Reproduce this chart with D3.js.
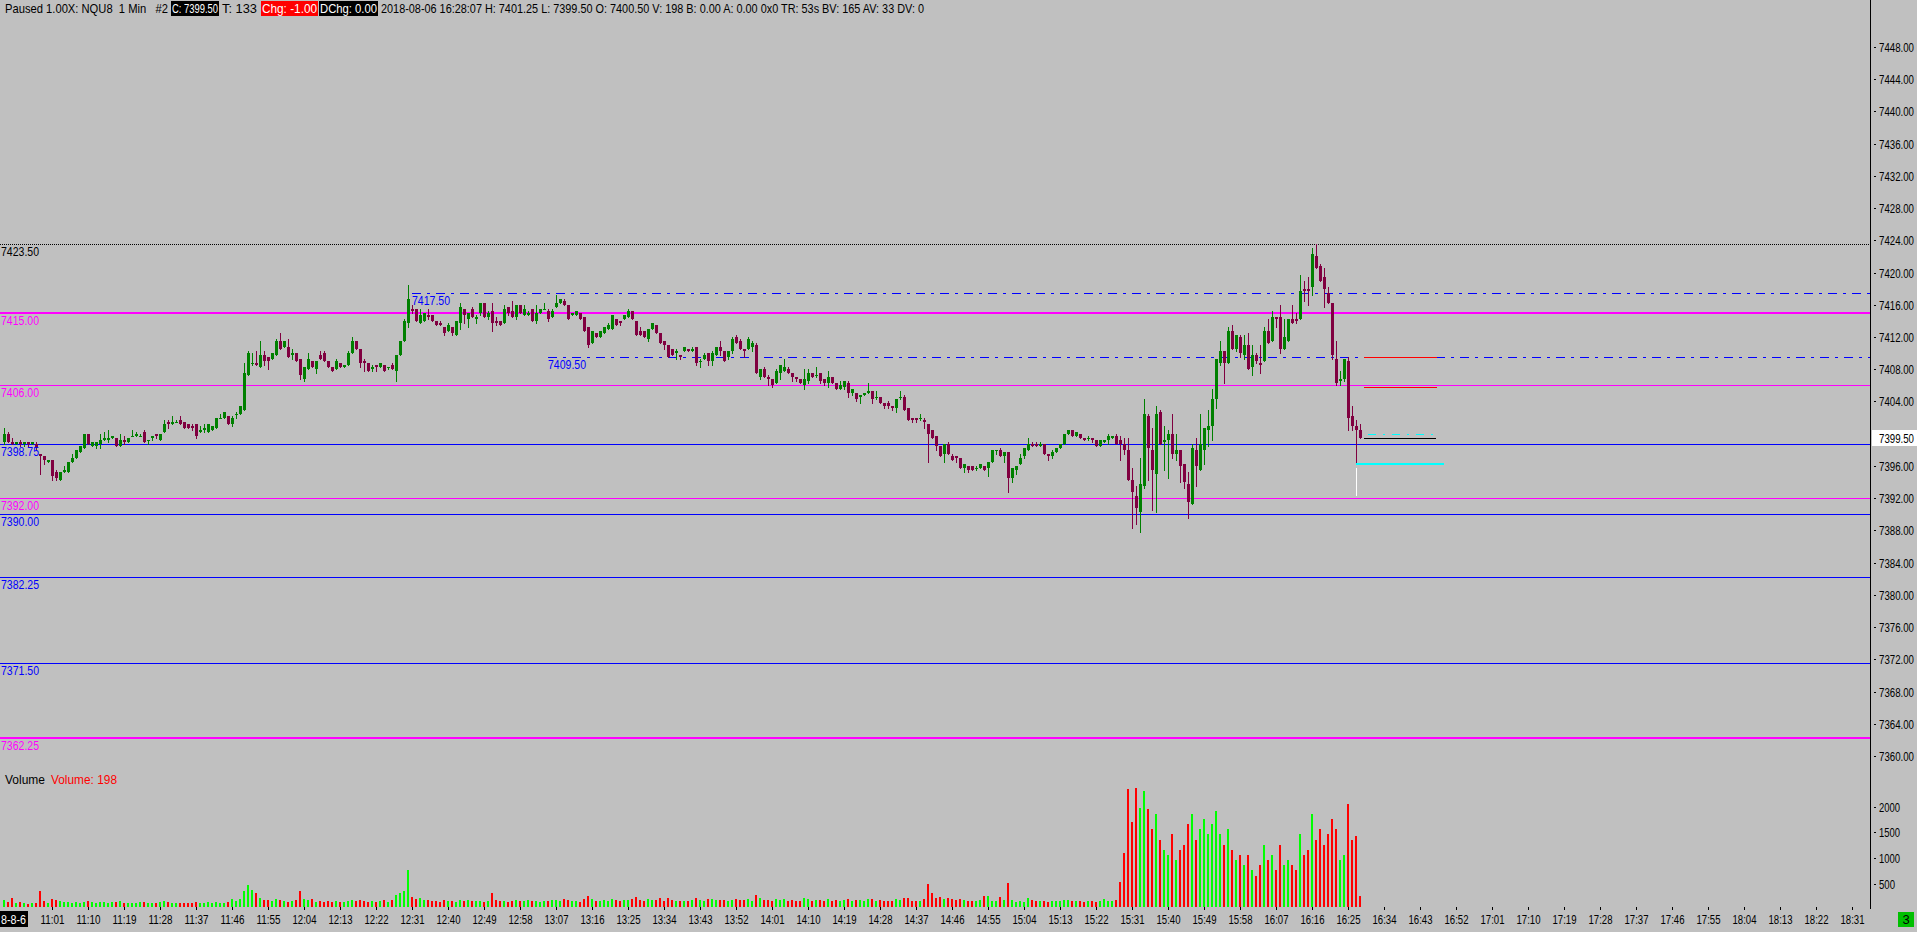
<!DOCTYPE html>
<html><head><meta charset="utf-8">
<script src="https://cdn.jsdelivr.net/npm/d3@7"></script>
<style>
html,body{margin:0;padding:0;background:#c0c0c0;overflow:hidden}
svg{display:block}
text{font-family:"Liberation Sans Narrow","Arial Narrow","Liberation Sans",Arial,sans-serif}
</style></head><body>
<svg id="chart" width="1917" height="932"></svg>
<script>
// ---------------- DATA ----------------
const firstBarTime = "10:49";   // one bar per minute, consecutive
const open = [
7399.0,7400.0,7399.0,7398.75,7399.0,7398.75,7399.0,7398.75,7398.75,7397.5,
7397.25,7396.5,7396.75,7395.25,7394.25,7395.25,7395.25,7396.5,7397.0,7397.75,
7398.25,7400.0,7398.5,7398.5,7398.75,7399.25,7399.25,7399.5,7399.5,7398.5,
7399.25,7399.0,7399.75,7399.75,7399.75,7400.25,7399.25,7399.5,7400.0,7399.25,
7400.25,7401.5,7401.25,7401.5,7401.75,7401.5,7401.25,7401.0,7401.25,7400.25,
7400.5,7400.25,7400.5,7400.75,7402.0,7402.0,7402.25,7401.25,7402.5,7402.5,
7403.0,7407.25,7408.75,7408.75,7408.25,7409.75,7409.5,7409.25,7409.75,7411.5,
7410.75,7410.75,7409.75,7410.0,7409.25,7406.75,7408.0,7409.0,7408.0,7409.75,
7410.0,7409.0,7408.25,7408.0,7408.75,7408.25,7408.5,7410.0,7411.5,7410.5,
7409.0,7408.75,7408.0,7408.5,7408.25,7408.5,7408.25,7408.5,7407.75,7409.75,
7411.5,7413.75,7415.5,7415.5,7413.75,7414.0,7414.75,7414.75,7414.0,7413.75,
7413.25,7412.75,7413.25,7412.25,7413.75,7415.5,7414.25,7415.5,7414.25,7415.0,
7416.25,7414.5,7415.25,7414.0,7414.0,7413.75,7415.75,7415.25,7414.5,7416.0,
7414.75,7414.75,7415.5,7414.0,7415.0,7415.5,7415.25,7414.5,7415.75,7416.25,
7416.5,7416.0,7414.75,7414.75,7415.0,7414.5,7413.25,7411.25,7412.5,7412.0,
7412.5,7413.0,7413.0,7414.25,7414.0,7414.25,7414.5,7415.25,7414.0,7412.75,
7412.75,7411.75,7413.0,7413.5,7412.5,7411.5,7411.0,7410.5,7410.0,7409.75,
7410.25,7410.5,7410.25,7410.75,7409.0,7409.25,7410.0,7409.0,7409.75,7410.75,
7410.25,7409.5,7410.25,7412.0,7411.5,7410.5,7410.5,7410.75,7411.0,7407.0,
7408.0,7407.0,7406.75,7406.25,7407.5,7407.75,7408.0,7407.5,7407.0,7406.75,
7406.0,7406.5,7407.5,7407.25,7407.5,7406.75,7406.25,7407.0,7406.25,7405.5,
7405.75,7406.25,7405.0,7405.0,7404.5,7404.75,7405.0,7405.25,7404.5,7404.5,
7403.75,7403.75,7403.5,7403.25,7404.5,7404.5,7403.25,7402.0,7402.0,7402.0,
7401.75,7401.25,7400.5,7399.75,7398.5,7397.5,7398.75,7397.25,7397.25,7397.0,
7395.75,7396.0,7396.0,7395.75,7395.75,7396.0,7395.75,7396.5,7398.0,7398.0,
7397.25,7397.75,7394.5,7395.5,7396.25,7397.25,7398.0,7398.75,7398.75,7398.5,
7398.75,7397.5,7397.25,7397.75,7398.25,7398.75,7400.0,7400.5,7399.75,7400.0,
7399.5,7399.5,7399.5,7399.25,7398.5,7399.0,7399.25,7399.5,7399.75,7399.25,
7398.75,7398.0,7394.25,7392.25,7390.25,7393.5,7402.25,7398.0,7395.0,7402.75,
7399.0,7399.25,7400.0,7397.5,7398.0,7396.25,7393.75,7391.25,7398.0,7395.5,
7398.0,7400.5,7401.0,7404.25,7408.75,7410.25,7408.75,7412.75,7410.5,7412.0,
7409.75,7411.0,7408.25,7409.75,7408.75,7409.0,7412.75,7411.5,7414.5,7414.5,
7410.5,7411.5,7414.25,7414.25,7414.25,7418.0,7418.0,7418.25,7422.0,7420.75,
7419.5,7417.5,7416.25,7409.25,7406.5,7406.75,7409.0,7402.25,7401.0,7400.5];
const high = [
7400.75,7400.25,7399.5,7399.0,7399.25,7399.0,7399.0,7399.0,7399.0,7397.5,
7397.25,7396.75,7396.75,7395.5,7395.25,7396.0,7396.5,7397.5,7398.0,7398.5,
7400.0,7400.0,7399.0,7399.0,7400.0,7400.25,7400.5,7399.75,7399.5,7400.0,
7399.75,7399.5,7400.5,7400.25,7400.0,7400.5,7399.25,7399.75,7400.0,7400.0,
7401.75,7401.75,7402.25,7401.75,7402.25,7401.5,7401.25,7401.25,7401.25,7401.0,
7401.25,7401.25,7401.0,7402.0,7402.5,7402.75,7402.25,7402.25,7402.75,7403.5,
7408.75,7410.25,7410.0,7410.25,7411.5,7410.25,7409.5,7410.0,7411.75,7412.5,
7411.5,7411.75,7410.5,7410.0,7409.25,7408.25,7410.0,7409.0,7409.0,7410.25,
7410.25,7409.0,7408.25,7409.25,7408.75,7408.5,7410.25,7412.0,7411.5,7410.5,
7409.25,7408.75,7408.5,7408.5,7408.75,7408.5,7408.25,7408.75,7409.75,7411.5,
7414.25,7418.5,7416.0,7415.5,7415.5,7415.0,7415.5,7414.75,7414.0,7414.0,
7413.25,7413.75,7413.25,7414.0,7416.25,7415.5,7415.0,7415.75,7414.75,7416.25,
7416.25,7415.25,7416.25,7414.5,7414.0,7416.0,7415.75,7416.5,7416.0,7416.0,
7416.0,7415.25,7415.5,7416.0,7415.5,7416.25,7415.5,7415.5,7417.25,7416.75,
7416.75,7416.0,7415.0,7415.25,7415.0,7414.5,7413.25,7412.75,7412.5,7412.75,
7413.25,7413.75,7414.75,7414.25,7414.0,7414.75,7415.5,7415.25,7414.0,7413.25,
7412.75,7413.0,7413.75,7413.5,7412.5,7411.5,7411.0,7410.5,7410.5,7409.75,
7410.75,7410.5,7410.75,7410.75,7409.25,7410.0,7410.0,7410.25,7410.75,7411.5,
7410.25,7410.25,7412.0,7412.25,7411.75,7410.5,7412.0,7411.5,7411.25,7408.0,
7408.25,7407.25,7406.75,7408.0,7408.5,7409.25,7408.25,7407.5,7407.0,7406.75,
7408.0,7408.0,7407.5,7408.25,7407.5,7406.75,7407.75,7407.0,7406.25,7406.5,
7406.5,7406.5,7405.5,7405.0,7404.75,7405.0,7406.25,7405.25,7405.25,7404.5,
7403.75,7404.0,7403.5,7404.25,7405.25,7404.75,7403.25,7402.0,7402.0,7402.5,
7402.0,7401.25,7400.5,7399.75,7398.5,7398.75,7399.0,7397.5,7397.25,7397.0,
7396.25,7396.0,7396.0,7396.0,7396.25,7396.0,7396.5,7398.0,7398.0,7398.25,
7397.75,7397.75,7395.75,7396.0,7397.5,7398.25,7399.5,7399.0,7399.0,7399.0,
7398.75,7397.5,7398.0,7398.25,7398.75,7400.0,7400.5,7400.5,7400.25,7400.0,
7399.5,7399.75,7399.5,7399.25,7399.25,7399.25,7400.0,7399.75,7400.0,7399.75,
7399.5,7399.5,7395.75,7393.5,7397.0,7404.25,7402.5,7400.75,7403.5,7403.0,
7401.0,7400.5,7402.5,7400.0,7398.0,7396.25,7395.25,7398.75,7399.5,7402.5,
7400.75,7403.0,7405.5,7409.25,7411.5,7410.25,7413.25,7413.5,7412.25,7412.25,
7412.25,7412.5,7411.0,7410.0,7411.0,7413.25,7414.25,7415.25,7414.5,7416.0,
7414.25,7414.25,7416.0,7415.0,7419.75,7419.0,7419.5,7423.0,7423.5,7421.0,
7420.5,7418.25,7416.25,7411.5,7407.75,7409.25,7409.5,7403.5,7401.75,7401.25];
const low = [
7398.75,7399.0,7398.75,7398.75,7398.5,7398.5,7398.5,7398.75,7398.0,7395.0,
7396.25,7396.5,7394.25,7394.25,7394.25,7395.25,7395.25,7396.5,7397.0,7397.75,
7398.25,7398.75,7398.5,7398.25,7398.25,7399.25,7399.0,7399.5,7398.5,7398.5,
7398.75,7399.0,7399.75,7399.75,7399.75,7399.0,7398.75,7399.25,7399.5,7399.25,
7400.25,7400.75,7401.25,7401.5,7401.25,7400.75,7400.75,7400.5,7399.5,7400.25,
7400.25,7400.25,7400.5,7400.75,7402.0,7402.0,7401.25,7401.0,7402.0,7402.5,
7403.0,7407.25,7408.5,7408.5,7408.25,7408.5,7408.0,7409.25,7409.75,7410.5,
7410.75,7409.5,7409.25,7409.0,7406.75,7406.5,7408.0,7408.25,7407.5,7409.25,
7409.0,7408.25,7407.75,7408.0,7408.25,7408.25,7408.5,7410.0,7410.5,7408.25,
7407.75,7407.75,7407.75,7407.75,7408.25,7407.75,7408.0,7408.0,7406.5,7409.75,
7411.5,7413.25,7415.0,7414.0,7413.75,7414.0,7414.25,7414.0,7413.5,7413.5,
7412.25,7412.75,7412.25,7412.25,7413.0,7413.75,7413.25,7414.5,7413.75,7414.75,
7414.5,7414.25,7412.75,7413.5,7413.5,7413.75,7414.75,7414.5,7414.25,7415.0,
7414.75,7414.75,7414.0,7413.75,7415.0,7415.5,7414.0,7414.5,7415.75,7416.25,
7416.0,7414.25,7414.75,7414.75,7414.25,7412.75,7410.75,7411.25,7412.0,7412.0,
7412.5,7413.0,7413.0,7413.5,7413.5,7414.25,7414.5,7414.25,7412.25,7412.25,
7412.0,7411.5,7413.0,7412.5,7411.25,7410.5,7409.5,7409.75,7409.25,7409.25,
7410.25,7410.25,7410.25,7408.5,7408.25,7409.25,7408.5,7408.5,7409.75,7409.75,
7409.0,7409.25,7410.0,7411.25,7410.5,7409.5,7410.5,7410.25,7407.5,7406.75,
7407.0,7406.0,7405.75,7406.25,7406.75,7407.75,7407.5,7406.5,7406.5,7406.25,
7405.5,7406.25,7407.0,7407.0,7406.25,7406.0,7405.75,7406.25,7405.5,7405.5,
7405.5,7404.5,7404.75,7404.0,7403.75,7404.75,7405.0,7403.75,7404.25,7403.75,
7403.25,7403.25,7403.0,7402.75,7404.25,7403.0,7401.75,7401.5,7401.5,7401.75,
7400.75,7396.5,7399.5,7398.0,7397.25,7396.5,7397.5,7396.75,7396.5,7395.75,
7395.25,7395.25,7395.5,7395.5,7395.75,7395.5,7394.75,7396.5,7397.5,7397.25,
7396.5,7392.75,7394.0,7395.0,7396.25,7397.0,7398.0,7398.5,7398.5,7398.5,
7397.5,7396.75,7397.0,7397.75,7398.25,7398.75,7400.0,7399.75,7399.75,7399.5,
7399.25,7399.25,7399.0,7398.5,7398.5,7399.0,7398.75,7399.5,7398.75,7396.75,
7397.5,7394.25,7388.25,7388.75,7387.75,7393.25,7394.25,7390.5,7390.25,7398.75,
7395.5,7394.5,7397.0,7396.75,7394.0,7393.25,7389.5,7391.25,7393.5,7395.5,
7396.25,7398.5,7399.25,7403.25,7408.5,7406.25,7408.75,7410.5,7410.25,7409.5,
7409.25,7408.0,7407.25,7408.75,7407.5,7409.0,7411.25,7411.5,7413.25,7410.0,
7410.5,7411.5,7413.75,7413.75,7414.25,7416.5,7416.0,7417.25,7420.5,7419.0,
7415.75,7416.25,7409.25,7406.0,7406.0,7406.5,7400.5,7400.5,7396.5,7399.5];
const close = [
7400.0,7399.0,7398.75,7399.0,7398.75,7399.0,7398.75,7399.0,7398.25,7397.25,
7396.75,7396.75,7394.75,7394.5,7395.25,7395.5,7396.5,7397.0,7398.0,7398.5,
7400.0,7398.75,7399.0,7399.0,7399.25,7399.5,7399.5,7399.75,7398.5,7399.25,
7399.0,7399.5,7399.75,7400.0,7399.75,7399.0,7399.25,7399.75,7399.75,7400.0,
7401.25,7401.25,7401.5,7401.5,7401.25,7400.75,7400.75,7400.75,7399.75,7400.5,
7400.75,7401.25,7401.0,7402.0,7402.0,7402.75,7401.25,7402.0,7402.5,7403.5,
7407.5,7410.0,7408.75,7408.5,7409.75,7409.0,7409.0,7410.0,7411.5,7410.5,
7411.5,7409.5,7410.0,7409.0,7407.25,7408.25,7409.25,7408.25,7409.0,7409.25,
7409.0,7408.25,7407.75,7409.0,7408.25,7408.5,7410.0,7411.5,7410.5,7408.75,
7408.75,7407.75,7408.25,7408.25,7408.75,7407.75,7408.25,7408.0,7409.75,7411.5,
7414.0,7416.75,7415.25,7414.0,7414.75,7415.0,7414.5,7414.0,7413.5,7413.5,
7412.5,7413.5,7412.5,7414.0,7415.75,7414.75,7415.0,7414.5,7414.5,7416.25,
7414.5,7415.0,7413.75,7413.75,7413.5,7415.5,7415.0,7414.5,7416.0,7415.0,
7415.5,7415.0,7414.0,7415.0,7415.5,7415.5,7414.25,7415.25,7416.25,7416.75,
7416.0,7414.25,7415.0,7415.25,7414.25,7412.75,7411.0,7412.75,7412.0,7412.75,
7413.25,7413.5,7414.75,7413.5,7413.75,7414.75,7415.25,7414.25,7412.25,7412.25,
7412.0,7413.0,7413.75,7412.5,7411.25,7411.0,7409.5,7409.75,7410.25,7409.5,
7410.75,7410.25,7410.5,7408.75,7409.0,7409.75,7409.0,7410.0,7410.75,7410.25,
7409.0,7410.25,7411.75,7411.25,7410.5,7410.25,7411.75,7411.25,7407.5,7408.0,
7407.0,7406.75,7406.0,7407.75,7408.5,7408.25,7407.5,7407.0,7406.75,7406.25,
7406.75,7407.5,7407.0,7407.25,7406.5,7406.25,7407.0,7406.25,7405.5,7406.0,
7406.5,7405.0,7405.5,7404.25,7404.75,7405.0,7405.25,7404.25,7404.5,7403.75,
7403.5,7403.5,7403.25,7404.25,7404.5,7403.0,7401.75,7401.75,7401.75,7402.0,
7401.5,7400.0,7399.5,7398.5,7397.25,7398.75,7397.5,7396.75,7397.0,7395.75,
7396.25,7395.5,7395.5,7395.75,7396.25,7395.5,7396.5,7398.0,7398.0,7397.25,
7397.75,7394.5,7395.75,7396.0,7397.0,7398.25,7398.75,7398.5,7398.5,7398.75,
7397.5,7397.25,7397.75,7398.25,7398.75,7400.0,7400.5,7399.75,7400.25,7399.5,
7399.25,7399.5,7399.25,7398.5,7399.25,7399.25,7399.75,7399.75,7398.75,7398.75,
7398.0,7394.25,7392.75,7390.75,7393.75,7402.5,7398.25,7395.5,7402.5,7398.75,
7399.25,7400.0,7397.5,7398.0,7396.0,7394.0,7391.5,7398.25,7396.0,7398.75,
7400.75,7401.0,7404.25,7409.25,7410.25,7408.75,7412.75,7410.5,7412.25,7410.0,
7411.0,7408.0,7409.75,7409.0,7408.5,7412.75,7411.25,7414.5,7414.25,7410.5,
7412.0,7414.25,7413.75,7414.0,7417.75,7417.75,7417.75,7422.25,7420.5,7419.0,
7418.0,7416.25,7409.75,7406.25,7406.75,7409.25,7402.0,7401.0,7400.5,7399.5];
const volume = [
135,80,165,70,90,60,50,70,60,310,
110,70,150,120,100,90,80,70,90,70,
90,110,80,70,90,80,70,90,80,100,
60,70,60,60,90,80,60,70,70,80,
110,80,60,70,60,70,60,60,90,70,
60,80,70,90,70,60,80,150,110,140,
300,420,330,260,160,120,130,100,150,130,
110,90,100,120,300,150,120,150,90,100,
80,110,90,100,80,90,110,130,100,120,
100,80,110,90,100,120,90,130,220,260,
300,700,180,150,160,120,130,100,110,90,
120,100,110,90,130,110,120,100,110,100,
90,110,270,120,100,110,90,100,120,110,
100,120,110,100,90,110,100,130,120,110,
150,120,100,110,90,140,200,150,100,110,
120,110,150,120,100,120,130,140,180,120,
110,150,120,130,160,110,170,120,110,100,
100,110,120,170,130,110,140,150,120,130,
120,110,120,140,130,120,140,110,220,160,
130,120,110,150,130,150,110,120,100,100,
160,150,110,120,130,110,140,110,120,100,
120,150,110,130,120,100,140,150,110,120,
100,110,100,150,130,160,170,110,100,100,
140,430,270,165,190,150,170,140,120,150,
120,100,100,110,120,200,200,100,110,190,
130,450,120,80,110,90,160,130,100,100,
100,80,100,100,110,130,120,100,110,100,
80,100,110,90,100,150,100,100,120,470,
1030,2280,1650,2300,1920,2250,1900,1500,1800,1300,
1100,1000,1400,900,1100,1200,1600,1800,1300,1500,
1700,1400,1600,1850,1400,1200,1500,1100,900,1000,
800,1000,700,600,800,1200,900,1000,700,1200,
800,900,800,700,1400,1000,1100,1800,1300,1500,
1200,1400,1700,1500,900,1000,2000,1300,1370,198];
const priceTicks = [7448,7444,7440,7436,7432,7428,7424,7420,7416,7412,7408,7404,7396,7392,7388,7384,7380,7376,7372,7368,7364,7360];
const volumeTicks = [2000,1500,1000,500];
const timeTicks = ["11:01","11:10","11:19","11:28","11:37","11:46","11:55","12:04","12:13","12:22","12:31","12:40","12:49","12:58","13:07","13:16","13:25","13:34","13:43","13:52","14:01","14:10","14:19","14:28","14:37","14:46","14:55","15:04","15:13","15:22","15:31","15:40","15:49","15:58","16:07","16:16","16:25","16:34","16:43","16:52","17:01","17:10","17:19","17:28","17:37","17:46","17:55","18:04","18:13","18:22","18:31"];
// horizontal reference levels (full width)
const levelPrices = [7423.5, 7415, 7406, 7398.75, 7392, 7390, 7382.25, 7371.5, 7362.25];
const levelLabels = ["7423.50","7415.00","7406.00","7398.75","7392.00","7390.00","7382.25","7371.50","7362.25"];
// dash-dot levels starting at a given bar time
const dashLevelPrices = [7417.5, 7409.5];
const dashLevelStart = ["12:31", "13:05"];
// short markers to the right of the last bar
const markerPrices = {redA: 7409.5, redB: 7405.75, cyanDash: 7400.0, lastPrice: 7399.5, cyanSolid: 7396.25, whiteTop: 7395.75, whiteBottom: 7392.25};
const lastPriceLabel = "7399.50";
const headerTexts = ["Paused 1.00X: NQU8  1 Min   #2","C: 7399.50","T: 133","Chg: -1.00","DChg: 0.00","2018-08-06 16:28:07 H: 7401.25 L: 7399.50 O: 7400.50 V: 198 B: 0.00 A: 0.00 0x0 TR: 53s BV: 165 AV: 33 DV: 0"];
const volumeTitle = ["Volume", "Volume: 198"];
const dateLabel = "8-8-6";
const pageCounter = "3";

// ---------------- DRAW ----------------
const svg = d3.select("#chart");
const W = 1917, H = 932;
const toMin = s => { const [h, m] = s.split(":").map(Number); return h * 60 + m; };
const t0 = toMin(firstBarTime);
const x = d3.scaleLinear().domain([toMin("11:01"), toMin("18:31")]).range([52.3, 1852.3]);
const y = d3.scaleLinear().domain([7360, 7448]).range([756.11, 46.83]);
const vy = d3.scaleLinear().domain([0, 2000]).range([906.5, 803.5]);
const UP = "#008000", DN = "#800040", VUP = "#00ff00", VDN = "#ff0000";
const AXIS_X = 1870.5;
const py = p => Math.round(y(p)) + 0.5;
const FS = 13;

svg.append("rect").attr("width", W).attr("height", H).attr("fill", "#c0c0c0");

const bars = open.map((o, i) => ({o, h: high[i], l: low[i], c: close[i], v: volume[i] || 0, m: t0 + i}));
const cx = d => Math.floor(x(d.m)) + 0.5;
const isUp = d => d.c >= d.o;

// level lines
const levelStyle = {
  "7423.5": {c: "#000", w: 1, dash: "1,1", tc: "#000"},
  "7415": {c: "#ff00ff", w: 2, tc: "#ff00ff"},
  "7406": {c: "#ff00ff", w: 1, tc: "#ff00ff"},
  "7398.75": {c: "#0000ff", w: 1, tc: "#0000ff"},
  "7392": {c: "#ff00ff", w: 1, tc: "#ff00ff"},
  "7390": {c: "#0000ff", w: 1, tc: "#0000ff"},
  "7382.25": {c: "#0000ff", w: 1, tc: "#0000ff"},
  "7371.5": {c: "#0000ff", w: 1, tc: "#0000ff"},
  "7362.25": {c: "#ff00ff", w: 2, tc: "#ff00ff"}
};
const gl = svg.append("g").attr("shape-rendering", "crispEdges");
levelPrices.forEach((p, i) => {
  const st = levelStyle[String(p)];
  const yy = st.w === 2 ? Math.round(y(p)) : py(p);
  gl.append("line").attr("x1", 0).attr("x2", AXIS_X - 0.5).attr("y1", yy).attr("y2", yy)
    .attr("stroke", st.c).attr("stroke-width", st.w).attr("stroke-dasharray", st.dash || null);
});
dashLevelPrices.forEach((p, i) => {
  const xs = Math.floor(x(toMin(dashLevelStart[i])));
  gl.append("line").attr("x1", xs).attr("x2", AXIS_X - 0.5).attr("y1", py(p)).attr("y2", py(p))
    .attr("stroke", "#0000ff").attr("stroke-width", 1).attr("stroke-dasharray", "9,6,3,6");
});

// candles
const gc = svg.append("g").attr("shape-rendering", "crispEdges");
gc.selectAll("line.w").data(bars).join("line").attr("class", "w")
  .attr("x1", cx).attr("x2", cx)
  .attr("y1", d => Math.round(y(d.h))).attr("y2", d => Math.round(y(d.l)) + 1)
  .attr("stroke", d => isUp(d) ? UP : DN).attr("stroke-width", 1);
gc.selectAll("rect.b").data(bars).join("rect").attr("class", "b")
  .attr("x", d => cx(d) - 1.5).attr("width", 3)
  .attr("y", d => Math.round(y(Math.max(d.o, d.c))))
  .attr("height", d => Math.max(1, Math.round(y(Math.min(d.o, d.c))) - Math.round(y(Math.max(d.o, d.c)))))
  .attr("fill", d => isUp(d) ? UP : DN);

// volume
const gv = svg.append("g").attr("shape-rendering", "crispEdges");
gv.selectAll("rect").data(bars).join("rect")
  .attr("x", d => cx(d) - 1.5).attr("width", 2)
  .attr("y", d => Math.round(vy(d.v))).attr("height", d => Math.round(vy(0)) - Math.round(vy(d.v)))
  .attr("fill", d => isUp(d) ? VUP : VDN);

// markers right of last bar
const gm = svg.append("g").attr("shape-rendering", "crispEdges");
gm.append("line").attr("x1", 1364).attr("x2", 1437).attr("y1", py(markerPrices.redA)).attr("y2", py(markerPrices.redA)).attr("stroke", "#ff0000").attr("stroke-width", 1);
gm.append("line").attr("x1", 1364).attr("x2", 1437).attr("y1", py(markerPrices.redB)).attr("y2", py(markerPrices.redB)).attr("stroke", "#ff0000").attr("stroke-width", 1);
gm.append("line").attr("x1", 1368).attr("x2", 1434).attr("y1", py(markerPrices.cyanDash)).attr("y2", py(markerPrices.cyanDash)).attr("stroke", "#00ffff").attr("stroke-width", 1).attr("stroke-dasharray", "8,7,2,7");
gm.append("line").attr("x1", 1364).attr("x2", 1436).attr("y1", py(markerPrices.lastPrice)).attr("y2", py(markerPrices.lastPrice)).attr("stroke", "#000").attr("stroke-width", 1);
gm.append("line").attr("x1", 1356).attr("x2", 1444).attr("y1", Math.round(y(markerPrices.cyanSolid))).attr("y2", Math.round(y(markerPrices.cyanSolid))).attr("stroke", "#00ffff").attr("stroke-width", 2);
gm.append("line").attr("x1", 1356.5).attr("x2", 1356.5).attr("y1", y(markerPrices.whiteTop)).attr("y2", y(markerPrices.whiteBottom)).attr("stroke", "#ffffff").attr("stroke-width", 1);

// level labels (left)
const gt = svg.append("g");
levelPrices.forEach((p, i) => {
  gt.append("text").attr("x", 1).attr("y", Math.round(y(p)) + 12).text(levelLabels[i])
    .attr("font-size", FS).attr("fill", levelStyle[String(p)].tc).attr("textLength", 38).attr("lengthAdjust", "spacingAndGlyphs");
});
dashLevelPrices.forEach((p, i) => {
  gt.append("text").attr("x", Math.floor(x(toMin(dashLevelStart[i])))).attr("y", Math.round(y(p)) + 12).text(p.toFixed(2))
    .attr("font-size", FS).attr("fill", "#0000ff").attr("textLength", 38).attr("lengthAdjust", "spacingAndGlyphs");
});

// right axis
svg.append("line").attr("x1", AXIS_X).attr("x2", AXIS_X).attr("y1", 0).attr("y2", 909).attr("stroke", "#000").attr("stroke-width", 1).attr("shape-rendering", "crispEdges");
const ga = svg.append("g");
const RX = 1914;
priceTicks.forEach(p => {
  ga.append("rect").attr("x", AXIS_X + 3.5).attr("y", Math.round(y(p))).attr("width", 2).attr("height", 1).attr("fill", "#000");
  ga.append("text").attr("x", RX).attr("y", Math.round(y(p)) + 5).attr("text-anchor", "end").text(p.toFixed(2))
    .attr("font-size", FS).attr("fill", "#000").attr("textLength", 35).attr("lengthAdjust", "spacingAndGlyphs");
});
volumeTicks.forEach(v => {
  ga.append("rect").attr("x", AXIS_X + 3.5).attr("y", Math.round(vy(v)) + 3).attr("width", 2).attr("height", 1).attr("fill", "#000");
  ga.append("text").attr("x", 1879).attr("y", Math.round(vy(v)) + 8).text(v)
    .attr("font-size", FS).attr("fill", "#000").attr("textLength", v >= 1000 ? 21 : 16).attr("lengthAdjust", "spacingAndGlyphs");
});
// last price box
const lpY = Math.round(y(markerPrices.lastPrice));
ga.append("rect").attr("x", AXIS_X + 1.5).attr("y", lpY - 8).attr("width", 45).attr("height", 16).attr("fill", "#fff");
ga.append("text").attr("x", RX).attr("y", lpY + 5).attr("text-anchor", "end").text(lastPriceLabel)
  .attr("font-size", FS).attr("fill", "#000").attr("textLength", 35).attr("lengthAdjust", "spacingAndGlyphs");

// time axis
const gx = svg.append("g");
timeTicks.forEach(t => {
  const xx = Math.floor(x(toMin(t))) + 0.5;
  gx.append("line").attr("x1", xx).attr("x2", xx).attr("y1", 907).attr("y2", 910).attr("stroke", "#000").attr("shape-rendering", "crispEdges");
  gx.append("text").attr("x", xx).attr("y", 924).attr("text-anchor", "middle").text(t)
    .attr("font-size", FS).attr("fill", "#000").attr("textLength", 24).attr("lengthAdjust", "spacingAndGlyphs");
});
gx.append("rect").attr("x", 0).attr("y", 911).attr("width", 28).attr("height", 16).attr("fill", "#000");
gx.append("text").attr("x", 1).attr("y", 924).text(dateLabel).attr("font-size", FS).attr("fill", "#fff").attr("textLength", 25).attr("lengthAdjust", "spacingAndGlyphs");
gx.append("rect").attr("x", 1898).attr("y", 912).attr("width", 16).attr("height", 15).attr("fill", "#00c000");
gx.append("text").attr("x", 1906).attr("y", 924).attr("text-anchor", "middle").text(pageCounter).attr("font-size", FS).attr("fill", "#000");

// volume title
svg.append("text").attr("x", 5).attr("y", 784).text(volumeTitle[0]).attr("font-size", FS).attr("fill", "#000").attr("textLength", 40).attr("lengthAdjust", "spacingAndGlyphs");
svg.append("text").attr("x", 51).attr("y", 784).text(volumeTitle[1]).attr("font-size", FS).attr("fill", "#ff0000").attr("textLength", 66).attr("lengthAdjust", "spacingAndGlyphs");

// header
const hdr = [
  {x: 5, w: 164, bg: null, fg: "#000"},
  {x: 172, w: 47, bg: "#000", fg: "#fff"},
  {x: 222, w: 36, bg: null, fg: "#000"},
  {x: 262, w: 56, bg: "#ff0000", fg: "#fff"},
  {x: 320, w: 58, bg: "#000", fg: "#fff"},
  {x: 381, w: 544, bg: null, fg: "#000"}
];
headerTexts.forEach((t, i) => {
  const h = hdr[i];
  if (h.bg) svg.append("rect").attr("x", h.x - 1).attr("y", 1).attr("width", h.w + 1).attr("height", 15).attr("fill", h.bg);
  svg.append("text").attr("x", h.x).attr("y", 13).text(t).attr("font-size", FS).attr("fill", h.fg)
    .attr("textLength", h.w - 1).attr("lengthAdjust", "spacingAndGlyphs").attr("xml:space", "preserve").style("white-space", "pre");
});
</script>
</body></html>
